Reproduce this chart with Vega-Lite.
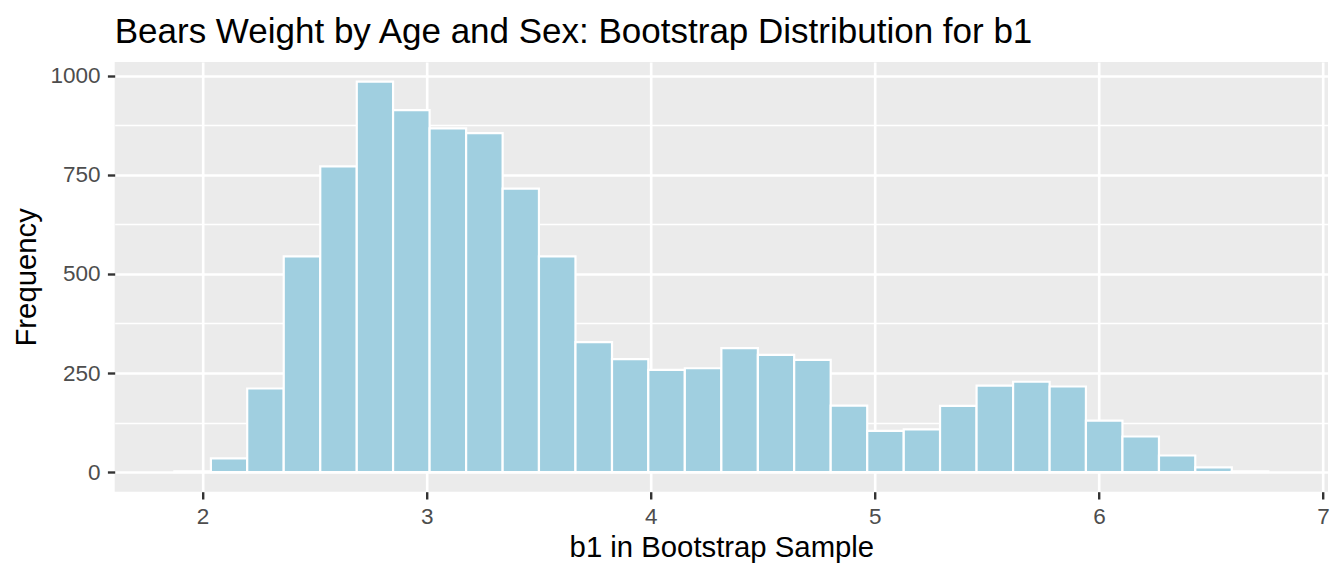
{
  "$schema": "https://vega.github.io/schema/vega-lite/v6.json",
  "width": 1213.3,
  "height": 429.7,
  "autosize": {"type": "none"},
  "padding": {"left": 114.7, "top": 62, "right": 16, "bottom": 84.3},
  "background": "white",
  "view": {"fill": "#EBEBEB", "stroke": null},
  "title": {
    "text": "Bears Weight by Age and Sex: Bootstrap Distribution for b1",
    "anchor": "start",
    "frame": "group",
    "font": "Liberation Sans",
    "fontSize": 35,
    "fontWeight": "normal",
    "color": "#000000",
    "baseline": "alphabetic",
    "offset": 22,
    "dy": 38
  },
  "data": {
    "values": [
      {"bin_start": 1.874, "bin_end": 2.037, "count": 2},
      {"bin_start": 2.037, "bin_end": 2.199, "count": 35},
      {"bin_start": 2.199, "bin_end": 2.362, "count": 211},
      {"bin_start": 2.362, "bin_end": 2.525, "count": 544},
      {"bin_start": 2.525, "bin_end": 2.688, "count": 771},
      {"bin_start": 2.688, "bin_end": 2.850, "count": 985},
      {"bin_start": 2.850, "bin_end": 3.013, "count": 913},
      {"bin_start": 3.013, "bin_end": 3.176, "count": 867},
      {"bin_start": 3.176, "bin_end": 3.339, "count": 855},
      {"bin_start": 3.339, "bin_end": 3.501, "count": 715},
      {"bin_start": 3.501, "bin_end": 3.664, "count": 544},
      {"bin_start": 3.664, "bin_end": 3.827, "count": 328},
      {"bin_start": 3.827, "bin_end": 3.989, "count": 285},
      {"bin_start": 3.989, "bin_end": 4.152, "count": 258},
      {"bin_start": 4.152, "bin_end": 4.315, "count": 262},
      {"bin_start": 4.315, "bin_end": 4.478, "count": 313},
      {"bin_start": 4.478, "bin_end": 4.640, "count": 296},
      {"bin_start": 4.640, "bin_end": 4.803, "count": 283},
      {"bin_start": 4.803, "bin_end": 4.966, "count": 168},
      {"bin_start": 4.966, "bin_end": 5.129, "count": 104},
      {"bin_start": 5.129, "bin_end": 5.291, "count": 108},
      {"bin_start": 5.291, "bin_end": 5.454, "count": 167},
      {"bin_start": 5.454, "bin_end": 5.617, "count": 218},
      {"bin_start": 5.617, "bin_end": 5.780, "count": 228},
      {"bin_start": 5.780, "bin_end": 5.942, "count": 216},
      {"bin_start": 5.942, "bin_end": 6.105, "count": 130},
      {"bin_start": 6.105, "bin_end": 6.268, "count": 90},
      {"bin_start": 6.268, "bin_end": 6.430, "count": 42},
      {"bin_start": 6.430, "bin_end": 6.593, "count": 12},
      {"bin_start": 6.593, "bin_end": 6.756, "count": 2}
    ]
  },
  "mark": {"type": "bar", "fill": "#A0CFE0", "stroke": "white", "strokeWidth": 2.2, "orient": "vertical"},
  "encoding": {
    "x": {
      "field": "bin_start",
      "type": "quantitative",
      "scale": {"domain": [1.63, 7.0], "nice": false, "zero": false},
      "axis": {
        "title": "b1 in Bootstrap Sample",
        "values": [2, 2.5, 3, 3.5, 4, 4.5, 5, 5.5, 6, 6.5, 7],
        "format": "d",
        "labelExpr": "datum.value % 1 === 0 ? datum.label : ''",
        "domain": false,
        "grid": true,
        "gridColor": "white",
        "gridWidth": {"condition": {"test": "datum.value % 1 !== 0", "value": 1.3}, "value": 2.6},
        "ticks": true,
        "tickColor": "#333333",
        "tickWidth": 2.4,
        "tickSize": 7.3,
        "tickOpacity": {"condition": {"test": "datum.value % 1 !== 0", "value": 0}, "value": 1},
        "labelFont": "Liberation Sans",
        "labelFontSize": 22.5,
        "labelColor": "#4D4D4D",
        "labelPadding": 6,
        "labelBaseline": "top",
        "labelFlush": false,
        "labelOverlap": false,
        "titleFont": "Liberation Sans",
        "titleFontSize": 29.3,
        "titleFontWeight": "normal",
        "titleColor": "#000000",
        "titleBaseline": "alphabetic",
        "titleY": 64.3
      }
    },
    "x2": {"field": "bin_end"},
    "y": {
      "field": "count",
      "type": "quantitative",
      "scale": {"domain": [-49.25, 1034.25], "nice": false, "zero": false},
      "axis": {
        "title": "Frequency",
        "values": [0, 125, 250, 375, 500, 625, 750, 875, 1000],
        "labelExpr": "datum.value % 250 === 0 ? datum.label : ''",
        "format": "d",
        "domain": false,
        "grid": true,
        "gridColor": "white",
        "gridWidth": {"condition": {"test": "datum.value % 250 !== 0", "value": 1.3}, "value": 2.6},
        "ticks": true,
        "tickColor": "#333333",
        "tickWidth": 2.4,
        "tickSize": 7.3,
        "tickOpacity": {"condition": {"test": "datum.value % 250 !== 0", "value": 0}, "value": 1},
        "labelFont": "Liberation Sans",
        "labelFontSize": 22.5,
        "labelColor": "#4D4D4D",
        "labelPadding": 7.4,
        "labelBaseline": "middle",
        "labelFlush": false,
        "labelOverlap": false,
        "titleFont": "Liberation Sans",
        "titleFontSize": 29.3,
        "titleFontWeight": "normal",
        "titleColor": "#000000",
        "titleAngle": -90,
        "titleBaseline": "alphabetic",
        "titleAlign": "center",
        "titleX": -79,
        "titleY": 214.85
      }
    }
  }
}
